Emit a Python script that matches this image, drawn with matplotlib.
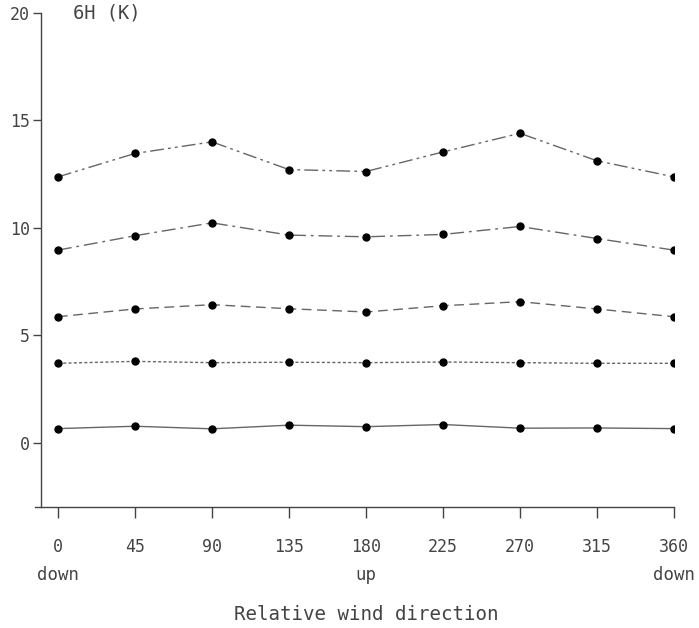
"""6H (K) versus relative wind direction, five profiles."""

import matplotlib
matplotlib.use("Agg")
import matplotlib.pyplot as plt
from matplotlib.transforms import blended_transform_factory

directions = [0, 45, 90, 135, 180, 225, 270, 315, 360]

series_solid = [0.65, 0.76, 0.64, 0.81, 0.74, 0.84, 0.67, 0.68, 0.65]
series_dotted = [3.69, 3.78, 3.72, 3.74, 3.72, 3.75, 3.72, 3.69, 3.69]
series_dashed = [5.86, 6.22, 6.42, 6.23, 6.08, 6.37, 6.56, 6.22, 5.86]
series_dashdot = [8.96, 9.63, 10.23, 9.66, 9.58, 9.69, 10.06, 9.50, 8.96]
series_dashdotdot = [12.37, 13.46, 14.00, 12.71, 12.62, 13.53, 14.40, 13.12, 12.37]

y_ticks = [0, 5, 10, 15, 20]
side_labels = {0: "down", 180: "up", 360: "down"}

INK = "#444444"
LINE = "#666666"

plt.rcParams.update({
    "font.family": ["DejaVu Sans Mono"],
    "font.size": 12,
    "text.color": INK,
    "axes.edgecolor": INK,
    "xtick.color": INK,
    "ytick.color": INK,
    "axes.linewidth": 1.0,
})

fig = plt.figure(figsize=(6.99, 6.28), dpi=100)
ax = fig.add_axes([35 / 699, 121 / 628, (674 - 35) / 699, (507 - 13) / 628])

styles = [
    (series_solid, "-"),
    (series_dotted, (0, (2.2, 1.6))),
    (series_dashed, (0, (7, 4))),
    (series_dashdot, (0, (10, 3.5, 2, 3.5))),
    (series_dashdotdot, (0, (10, 3, 2, 3, 2, 3))),
]
for vals, ls in styles:
    ax.plot(directions, vals, linestyle=ls, color=LINE, lw=1.0)
    ax.plot(directions, vals, "o", color="black", ms=5, zorder=3)

ax.set_xlim(-13.4, 360)
ax.set_ylim(-3, 20)
ax.spines["top"].set_visible(False)
ax.spines["right"].set_visible(False)
ax.spines["left"].set_position(("data", -10))

ax.set_xticks(directions)
ax.set_xticklabels([str(d) for d in directions])
ax.set_yticks(y_ticks)
ax.tick_params(axis="x", direction="out", length=8, width=1, pad=14, labelsize=12)
ax.tick_params(axis="y", direction="out", length=6, width=1, pad=2, labelsize=12)

ax.text(9, 20, "6H (K)", ha="left", va="center", fontsize=13.5)

trans = blended_transform_factory(ax.transData, fig.transFigure)
for d, lab in side_labels.items():
    ax.text(d, 1 - 575 / 628, lab, transform=trans, ha="center", va="center", fontsize=12.5)
ax.text(180, 1 - 615 / 628, "Relative wind direction", transform=trans,
        ha="center", va="center", fontsize=13.8)

fig.savefig("out.png", dpi=100, facecolor="white")
